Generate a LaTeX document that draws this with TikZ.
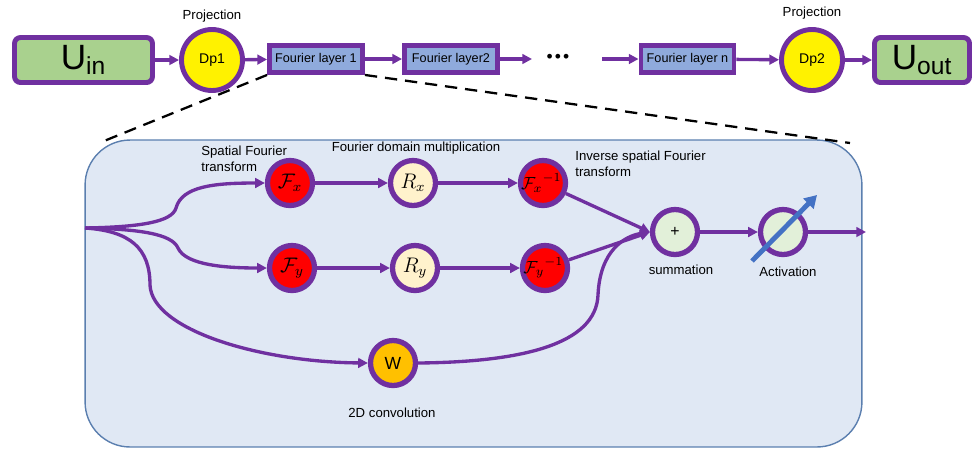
\documentclass[tikz,border=0pt]{standalone}
\usepackage{fontspec}
\setmainfont{Liberation Sans}
\usetikzlibrary{arrows.meta}
\definecolor{purp}{HTML}{7030A0}
\definecolor{ugreen}{HTML}{A9D18E}
\definecolor{lblue}{HTML}{8FAADC}
\definecolor{panelfill}{HTML}{E0E8F4}
\definecolor{panelline}{HTML}{5B7FAF}
\definecolor{cream}{HTML}{FFF2CC}
\definecolor{sgreen}{HTML}{E2F0D9}
\definecolor{orng}{HTML}{FFC000}
\definecolor{actblue}{HTML}{4472C4}
\begin{document}
\begin{tikzpicture}[x=0.02cm,y=-0.02cm,
  conn/.style={draw=purp, line width=1.9pt},
  arr/.style={conn,-{Triangle[length=5.5pt,width=5.5pt]}},
  ubox/.style={draw=purp, line width=2.8pt, fill=ugreen, rounded corners=0.12cm,
     minimum width=2.76cm, minimum height=0.9cm, inner sep=0pt},
  flbox/.style={draw=purp, line width=2.8pt, fill=lblue, minimum width=1.86cm,
     minimum height=0.54cm, inner sep=0pt, font=\fontsize{7.2}{8}\selectfont},
  proj/.style={circle, draw=purp, line width=2.8pt, fill=yellow, minimum size=1.22cm,
     inner sep=0pt, font=\fontsize{8}{9}\selectfont},
  op/.style={circle, draw=purp, line width=3pt, minimum size=0.9cm, inner sep=0pt,
     font=\fontsize{12}{14}\selectfont},
  lbl/.style={font=\fontsize{7.5}{9}\selectfont, inner sep=0pt, align=left}
]
\useasboundingbox (0,0) rectangle (972,451);

% panel
\node[draw=panelline, line width=0.8pt, fill=panelfill, rounded corners=0.9cm,
  minimum width=15.54cm, minimum height=6.14cm, inner sep=0pt] (panel) at (473.5,293.5) {};

% top row
\node[ubox] (uin) at (83.5,60) {\fontsize{20}{22}\selectfont U\textsubscript{\fontsize{14}{16}\selectfont in}};
\node[proj] (dp1) at (212,60) {Dp1};
\node[lbl] (proj1) at (212,16) {Projection};
\node[flbox] (fl1) at (316,59) {Fourier layer 1};
\node[flbox] (fl2) at (451,59) {Fourier layer2};
\node[font=\fontsize{10}{12}\selectfont] (dots) at (558,58) {\textbullet\kern1.2pt\textbullet\kern1.2pt\textbullet};
\node[flbox] (fln) at (687.5,59) {Fourier layer n};
\node[proj] (dp2) at (812,60) {Dp2};
\node[lbl] (proj2) at (812,13) {Projection};
\node[ubox, minimum width=1.9cm] (uout) at (922,60) {\fontsize{20}{22}\selectfont U\textsubscript{\fontsize{14}{16}\selectfont out}};

\coordinate (d2a) at (532,59);
\coordinate (dnb) at (602,59);
\draw[arr] (uin) -- (dp1);
\draw[arr] (dp1) -- (fl1);
\draw[arr] (fl1) -- (fl2);
\draw[arr] (fl2) -- (d2a);
\draw[arr] (dnb) -- (fln);
\draw[arr] (fln) -- (dp2);
\draw[arr] (dp2) -- (uout);

% dashed zoom lines
\coordinate (zl) at (104,141);
\coordinate (zr) at (850,143);
\draw[line width=1.3pt, dash pattern=on 7pt off 4.5pt] (fl1.south west) -- (zl);
\draw[line width=1.3pt, dash pattern=on 7pt off 4.5pt] (fl1.south east) -- (zr);

% inner nodes
\node[op, fill=red] (fx) at (290,183) {$\mathcal{F}_x$};
\node[op, fill=cream] (rx) at (413,183) {$R_x$};
\node[op, fill=red, font=\fontsize{10}{12}\selectfont] (fxi) at (543,183) {\kern-2pt${\mathcal{F}_x}^{-1}$};
\node[op, fill=red] (fy) at (292,268) {$\mathcal{F}_y$};
\node[op, fill=cream] (ry) at (415,268) {$R_y$};
\node[op, fill=red, font=\fontsize{10}{12}\selectfont] (fyi) at (545,268) {\kern-2pt${\mathcal{F}_y}^{-1}$};
\node[op, fill=sgreen, font=\fontsize{9}{10}\selectfont] (sum) at (675,232) {+};
\node[op, fill=sgreen] (act) at (783,232) {};
\node[op, fill=orng, font=\fontsize{10}{12}\selectfont] (w) at (393,363) {W};

% labels
\node[lbl, anchor=north west] (l1) at (201,146) {Spatial Fourier\\transform};
\node[lbl] (l2) at (416,148) {Fourier domain multiplication};
\node[lbl, anchor=north west] (l3) at (575,151) {Inverse spatial Fourier\\transform};
\node[lbl] (l4) at (681,270) {summation};
\node[lbl] (l5) at (788,272) {Activation};
\node[lbl] (l6) at (392,413) {2D convolution};

% connectors
\coordinate (in) at (85,228);
\coordinate (out) at (866,232);
\draw[arr] (in) .. controls (140,227) and (172,222) .. (176,208)
  .. controls (182,186) and (215,183) .. (fx.west);
\draw[arr] (in) .. controls (140,229) and (172,234) .. (178,248)
  .. controls (186,266) and (230,268) .. (fy.west);
\draw[arr] (in) .. controls (130,231) and (150,248) .. (150,285)
  .. controls (152,330) and (260,362) .. (w.west);
\draw[arr] (fx) -- (rx);
\draw[arr] (rx) -- (fxi);
\draw[arr] (fy) -- (ry);
\draw[arr] (ry) -- (fyi);
\draw[arr] (fxi) -- (sum.west);
\draw[arr] (fyi) -- (sum.west);
\draw[arr] (w.east) .. controls (520,362) and (596,345) .. (598,295)
  .. controls (600,250) and (625,236) .. (sum.west);
\draw[arr] (sum) -- (act);
\draw[arr] (act) -- (out);

% activation arrow
\coordinate (aa) at (752,261);
\coordinate (ab) at (817,195);
\draw[draw=actblue, line width=2.8pt, -{Triangle[length=7pt,width=8pt]}] (aa) -- (ab);
\end{tikzpicture}
\end{document}
